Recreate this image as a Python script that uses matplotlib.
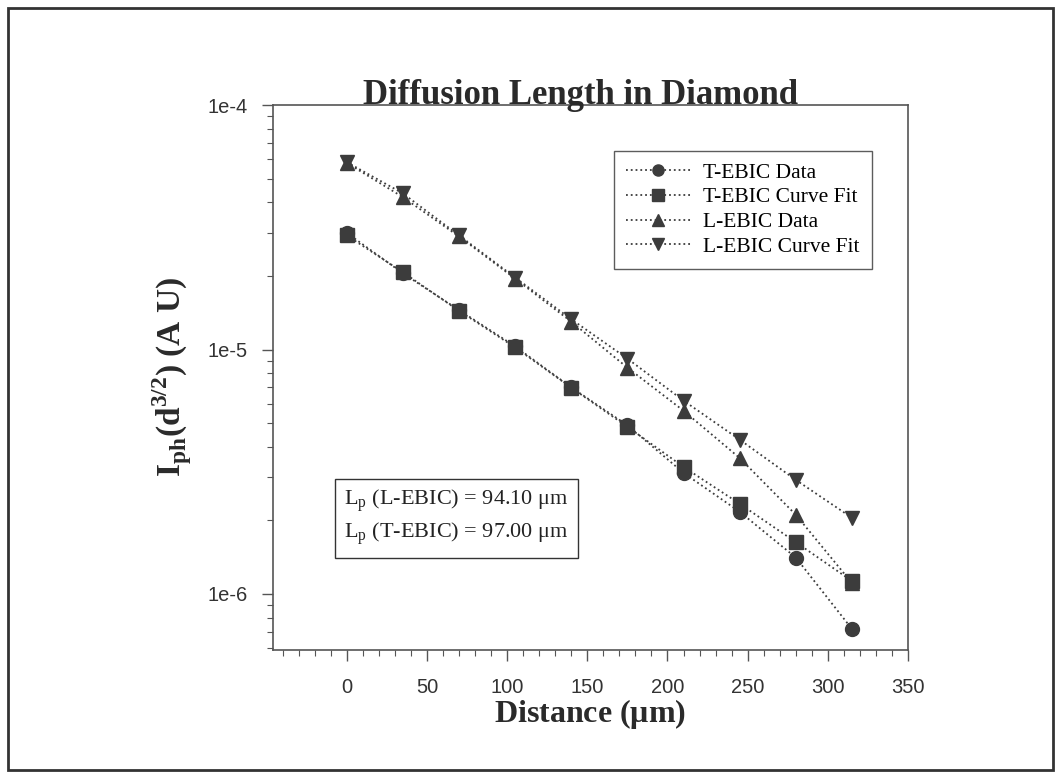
import matplotlib
matplotlib.use("Agg")
import matplotlib.pyplot as plt
from matplotlib.patches import Rectangle
from matplotlib.ticker import FixedLocator, LogLocator, NullFormatter, MultipleLocator

# distance in micrometres
distance = [0, 35, 70, 105, 140, 175, 210, 245, 280, 315]

t_ebic_data = [3.0e-5, 2.05e-5, 1.45e-5, 1.03e-5, 7.0e-6, 4.9e-6, 3.13e-6, 2.17e-6, 1.41e-6, 7.2e-7]
t_ebic_fit = [2.93e-5, 2.07e-5, 1.44e-5, 1.02e-5, 6.98e-6, 4.83e-6, 3.31e-6, 2.34e-6, 1.63e-6, 1.13e-6]
l_ebic_data = [5.8e-5, 4.2e-5, 2.9e-5, 1.95e-5, 1.3e-5, 8.43e-6, 5.62e-6, 3.6e-6, 2.11e-6, 1.11e-6]
l_ebic_fit = [5.84e-5, 4.35e-5, 2.93e-5, 1.97e-5, 1.33e-5, 9.18e-6, 6.18e-6, 4.28e-6, 2.93e-6, 2.05e-6]

series_labels = ["T-EBIC Data", "T-EBIC Curve Fit", "L-EBIC Data", "L-EBIC Curve Fit"]
y_ticks = [1e-6, 1e-5, 1e-4]
y_ticklabels = ["1e-6", "1e-5", "1e-4"]
x_ticks = [0, 50, 100, 150, 200, 250, 300, 350]

SERIF = "Liberation Serif"
SANS = "Liberation Sans"
INK = "#3c3c3c"

fig = plt.figure(figsize=(10.61, 7.78), dpi=100)
ax = fig.add_axes([0.2573, 0.1645, 0.5985, 0.7005])

markers = ["o", "s", "^", "v"]
for ys, m, lab in zip([t_ebic_data, t_ebic_fit, l_ebic_data, l_ebic_fit], markers, series_labels):
    ax.plot(distance, ys, linestyle=":", color=INK, linewidth=1.3,
            marker=m, markersize=10, markerfacecolor=INK, markeredgecolor=INK,
            label=lab)

ax.set_yscale("log")
ax.set_ylim(5.9e-7, 1e-4)
ax.set_xlim(-46, 350)

ax.yaxis.set_major_locator(FixedLocator(y_ticks))
ax.set_yticklabels(y_ticklabels, fontfamily=SANS, fontsize=14.5, color="#333333")
ax.yaxis.set_minor_locator(LogLocator(base=10, subs=range(2, 10)))
ax.yaxis.set_minor_formatter(NullFormatter())

ax.xaxis.set_major_locator(FixedLocator(x_ticks))
ax.set_xticklabels([str(v) for v in x_ticks], fontfamily=SANS, fontsize=14.5, color="#333333")
ax.xaxis.set_minor_locator(MultipleLocator(10))

ax.tick_params(which="major", direction="out", length=8, width=1, color="#555555", pad=12)
ax.tick_params(which="minor", direction="out", length=4, width=0.8, color="#555555")
ax.tick_params(axis="y", which="major", pad=10)
for sp in ax.spines.values():
    sp.set_color("#555555")
    sp.set_linewidth(1.2)

fig.text(0.547, 0.866, "Diffusion Length in Diamond", fontfamily=SERIF, fontweight="bold",
         fontsize=25, color="#2a2a2a", ha="center", va="baseline")
ax.set_xlabel(r"Distance ($\mathregular{\mu}$m)", fontfamily=SERIF, fontweight="bold",
              fontsize=23, color="#2a2a2a")
ax.xaxis.set_label_coords(0.5, -0.087)
ax.set_ylabel(r"I$_{\mathregular{ph}}$(d$^{\mathregular{3/2}}$) (A U)", fontfamily=SERIF,
              fontweight="bold", fontsize=24, color="#2a2a2a")
ax.yaxis.set_label_coords(-0.125, 0.5)

leg = ax.legend(loc="upper right", bbox_to_anchor=(0.96, 0.936), prop={"family": SERIF, "size": 15.5},
                frameon=True, fancybox=False, handlelength=3.0, handletextpad=0.6,
                borderpad=0.55, labelspacing=0.22, markerscale=0.8)
leg.get_frame().set_edgecolor("#333333")
leg.get_frame().set_linewidth(1.0)

ax.text(0.112, 0.297,
        "L$_{\\mathregular{p}}$ (L-EBIC) = 94.10 $\\mathregular{\\mu}$m\n"
        "L$_{\\mathregular{p}}$ (T-EBIC) = 97.00 $\\mathregular{\\mu}$m",
        transform=ax.transAxes, fontfamily=SERIF, fontsize=16, color="#222222",
        va="top", ha="left", linespacing=1.35,
        bbox=dict(boxstyle="square,pad=0.42", facecolor="white", edgecolor="#333333", linewidth=1.0))

# scanned page border
fig.patches.append(Rectangle((0.008, 0.01), 0.984, 0.98, transform=fig.transFigure,
                             fill=False, edgecolor="#333333", linewidth=2.0))

fig.savefig("out.png", dpi=100)
